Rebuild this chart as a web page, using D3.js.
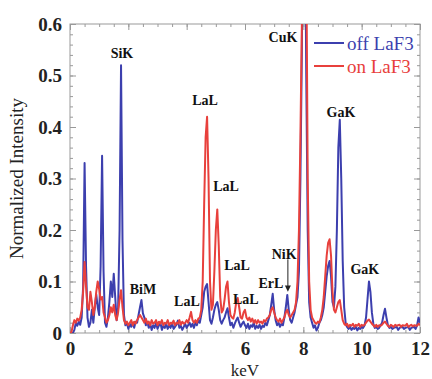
<!DOCTYPE html>
<html>
<head>
<meta charset="utf-8">
<script src="https://cdn.jsdelivr.net/npm/d3@7"></script>
<style>
  body { margin: 0; background: #fff; }
  svg { display: block; font-family: "Liberation Serif", "Times New Roman", serif; }
</style>
</head>
<body>
<svg id="chart" width="432" height="379"></svg>
<script>
// spectrum, [keV, normalized intensity]
var offLaF3 = [
  [0,0],[0.1,0],[0.15,0.006],[0.2,0.02],[0.25,0.014],[0.3,0.022],[0.35,0.016],[0.4,0.03],[0.45,0.09],[0.5,0.33],
  [0.55,0.13],[0.6,0.03],[0.65,0.012],[0.7,0.02],[0.75,0.045],[0.8,0.02],[0.85,0.05],[0.9,0.075],[0.95,0.05],[1.0,0.035],
  [1.05,0.13],[1.1,0.344],[1.15,0.12],[1.2,0.02],[1.25,0.012],[1.3,0.03],[1.35,0.06],[1.4,0.1],[1.45,0.07],[1.5,0.115],
  [1.55,0.07],[1.6,0.025],[1.65,0.05],[1.7,0.2],[1.75,0.52],[1.8,0.18],[1.85,0.035],[1.9,0.015],[1.95,0.02],[2.0,0.008],
  [2.05,0.018],[2.1,0.012],[2.15,0.02],[2.2,0.01],[2.25,0.022],[2.3,0.02],[2.35,0.035],[2.4,0.05],[2.45,0.064],[2.5,0.038],
  [2.55,0.03],[2.6,0.015],[2.65,0.022],[2.7,0.01],[2.75,0.018],[2.8,0.006],[2.85,0.015],[2.9,0.01],[2.95,0.02],[3.0,0.008],
  [3.05,0.015],[3.1,0.02],[3.15,0.006],[3.2,0.014],[3.25,0.01],[3.3,0.018],[3.35,0.008],[3.4,0.015],[3.45,0.01],[3.5,0.02],
  [3.55,0.008],[3.6,0.012],[3.65,0.016],[3.7,0.024],[3.75,0.01],[3.8,0.014],[3.85,0.006],[3.9,0.012],[3.95,0.018],[4.0,0.01],
  [4.05,0.015],[4.1,0.02],[4.15,0.012],[4.2,0.018],[4.25,0.01],[4.3,0.02],[4.35,0.015],[4.4,0.025],[4.45,0.02],[4.5,0.035],
  [4.55,0.05],[4.6,0.08],[4.65,0.09],[4.7,0.095],[4.75,0.06],[4.8,0.025],[4.85,0.018],[4.9,0.03],[4.95,0.045],[5.0,0.055],
  [5.05,0.06],[5.1,0.045],[5.15,0.025],[5.2,0.018],[5.25,0.025],[5.3,0.03],[5.35,0.04],[5.4,0.048],[5.45,0.03],[5.5,0.015],
  [5.55,0.02],[5.6,0.01],[5.65,0.018],[5.7,0.025],[5.75,0.03],[5.8,0.02],[5.85,0.012],[5.9,0.018],[5.95,0.022],[6.0,0.015],
  [6.05,0.01],[6.1,0.018],[6.15,0.008],[6.2,0.015],[6.25,0.012],[6.3,0.02],[6.35,0.008],[6.4,0.014],[6.45,0.01],[6.5,0.016],
  [6.55,0.008],[6.6,0.014],[6.65,0.012],[6.7,0.02],[6.75,0.015],[6.8,0.025],[6.85,0.035],[6.9,0.055],[6.95,0.076],[7.0,0.045],
  [7.05,0.025],[7.1,0.015],[7.15,0.02],[7.2,0.012],[7.25,0.018],[7.3,0.015],[7.35,0.03],[7.4,0.05],[7.45,0.074],[7.5,0.045],
  [7.55,0.025],[7.6,0.02],[7.65,0.03],[7.7,0.04],[7.75,0.055],[7.8,0.07],[7.85,0.12],[7.9,0.3],[7.95,0.55],[8.0,1.0],
  [8.05,0.9],[8.1,0.5],[8.15,0.2],[8.2,0.06],[8.25,0.03],[8.3,0.02],[8.35,0.01],[8.4,0.015],[8.45,0.005],[8.5,0.01],
  [8.55,0.02],[8.6,0.025],[8.65,0.035],[8.7,0.05],[8.75,0.08],[8.8,0.11],[8.85,0.13],[8.9,0.14],[8.95,0.11],[9.0,0.06],
  [9.05,0.05],[9.1,0.09],[9.15,0.2],[9.2,0.36],[9.25,0.414],[9.3,0.3],[9.35,0.14],[9.4,0.05],[9.45,0.02],[9.5,0.012],
  [9.55,0.008],[9.6,0.012],[9.65,0.006],[9.7,0.01],[9.75,0.008],[9.8,0.012],[9.85,0.005],[9.9,0.01],[9.95,0.008],[10.0,0.012],
  [10.05,0.01],[10.1,0.015],[10.15,0.03],[10.2,0.065],[10.25,0.1],[10.3,0.08],[10.35,0.04],[10.4,0.018],[10.45,0.01],[10.5,0.012],
  [10.55,0.008],[10.6,0.01],[10.65,0.015],[10.7,0.02],[10.75,0.035],[10.8,0.047],[10.85,0.03],[10.9,0.015],[10.95,0.01],[11.0,0.012],
  [11.05,0.008],[11.1,0.01],[11.2,0.012],[11.25,0.006],[11.3,0.01],[11.4,0.012],[11.45,0.008],[11.5,0.01],[11.6,0.012],[11.65,0.006],
  [11.7,0.01],[11.8,0.012],[11.85,0.008],[11.9,0.015],[11.95,0.03],[12.0,0.02]
];

var onLaF3 = [
  [0,0],[0.05,0.002],[0.1,0.015],[0.15,0.025],[0.2,0.02],[0.25,0.028],[0.3,0.024],[0.35,0.03],[0.4,0.045],[0.45,0.08],
  [0.5,0.138],[0.55,0.09],[0.6,0.05],[0.65,0.045],[0.7,0.08],[0.75,0.06],[0.8,0.035],[0.85,0.05],[0.9,0.08],[0.95,0.1],
  [1.0,0.085],[1.05,0.065],[1.1,0.07],[1.15,0.04],[1.2,0.03],[1.25,0.02],[1.3,0.025],[1.35,0.035],[1.4,0.05],[1.45,0.04],
  [1.5,0.055],[1.55,0.035],[1.6,0.025],[1.65,0.04],[1.7,0.065],[1.75,0.083],[1.8,0.05],[1.85,0.025],[1.9,0.018],[1.95,0.022],
  [2.0,0.015],[2.05,0.02],[2.1,0.025],[2.15,0.015],[2.2,0.022],[2.25,0.018],[2.3,0.025],[2.35,0.03],[2.4,0.035],[2.45,0.03],
  [2.5,0.025],[2.55,0.02],[2.6,0.028],[2.65,0.018],[2.7,0.022],[2.75,0.015],[2.8,0.025],[2.85,0.018],[2.9,0.02],[2.95,0.025],
  [3.0,0.015],[3.05,0.022],[3.1,0.018],[3.15,0.025],[3.2,0.015],[3.25,0.02],[3.3,0.018],[3.35,0.025],[3.4,0.015],[3.45,0.02],
  [3.5,0.018],[3.55,0.024],[3.6,0.015],[3.65,0.02],[3.7,0.018],[3.75,0.025],[3.8,0.016],[3.85,0.022],[3.9,0.018],[3.95,0.02],
  [4.0,0.025],[4.05,0.02],[4.1,0.03],[4.15,0.041],[4.2,0.025],[4.25,0.02],[4.3,0.025],[4.35,0.02],[4.4,0.028],[4.45,0.03],
  [4.5,0.045],[4.55,0.1],[4.6,0.25],[4.65,0.38],[4.7,0.42],[4.75,0.3],[4.8,0.1],[4.85,0.045],[4.9,0.055],[4.95,0.12],
  [5.0,0.2],[5.05,0.24],[5.1,0.17],[5.15,0.07],[5.2,0.04],[5.25,0.045],[5.3,0.065],[5.35,0.09],[5.4,0.1],[5.45,0.06],
  [5.5,0.035],[5.55,0.03],[5.6,0.028],[5.65,0.04],[5.7,0.06],[5.75,0.068],[5.8,0.05],[5.85,0.03],[5.9,0.028],[5.95,0.04],
  [6.0,0.045],[6.05,0.03],[6.1,0.025],[6.15,0.03],[6.2,0.022],[6.25,0.028],[6.3,0.02],[6.35,0.025],[6.4,0.018],[6.45,0.025],
  [6.5,0.02],[6.55,0.022],[6.6,0.018],[6.65,0.025],[6.7,0.022],[6.75,0.028],[6.8,0.03],[6.85,0.035],[6.9,0.045],[6.95,0.05],
  [7.0,0.04],[7.05,0.03],[7.1,0.025],[7.15,0.022],[7.2,0.028],[7.25,0.02],[7.3,0.025],[7.35,0.03],[7.4,0.04],[7.45,0.045],
  [7.5,0.035],[7.55,0.03],[7.6,0.035],[7.65,0.04],[7.7,0.045],[7.75,0.06],[7.8,0.1],[7.85,0.2],[7.9,0.38],[7.95,0.6],
  [8.0,1.0],[8.05,1.15],[8.1,0.75],[8.15,0.3],[8.2,0.1],[8.25,0.045],[8.3,0.03],[8.35,0.025],[8.4,0.02],[8.45,0.018],
  [8.5,0.022],[8.55,0.02],[8.6,0.03],[8.65,0.045],[8.7,0.07],[8.75,0.11],[8.8,0.15],[8.85,0.175],[8.9,0.182],[8.95,0.15],
  [9.0,0.08],[9.05,0.045],[9.1,0.04],[9.15,0.05],[9.2,0.06],[9.25,0.064],[9.3,0.045],[9.35,0.025],[9.4,0.018],[9.45,0.015],
  [9.5,0.018],[9.55,0.012],[9.6,0.016],[9.65,0.014],[9.7,0.018],[9.75,0.012],[9.8,0.016],[9.85,0.014],[9.9,0.018],[9.95,0.012],
  [10.0,0.016],[10.05,0.014],[10.1,0.016],[10.15,0.02],[10.2,0.024],[10.25,0.026],[10.3,0.022],[10.35,0.018],[10.4,0.015],[10.45,0.012],
  [10.5,0.016],[10.55,0.012],[10.6,0.015],[10.65,0.014],[10.7,0.016],[10.75,0.02],[10.8,0.022],[10.85,0.018],[10.9,0.014],[10.95,0.012],
  [11.0,0.016],[11.1,0.012],[11.15,0.016],[11.2,0.014],[11.3,0.016],[11.35,0.012],[11.4,0.015],[11.5,0.014],[11.55,0.018],[11.6,0.012],
  [11.7,0.016],[11.75,0.013],[11.8,0.015],[11.9,0.014],[11.95,0.018],[12.0,0.015]
];

var xTicks = [0, 2, 4, 6, 8, 10, 12];
var yTicks = [0, 0.1, 0.2, 0.3, 0.4, 0.5, 0.6];
var seriesNames = ['off LaF3', 'on LaF3'];

// peak labels: [text, keV, intensity]
var peakLabels = [
  ['SiK', 1.78, 0.544], ['LaL', 4.63, 0.452], ['CuK', 7.30, 0.575], ['GaK', 9.29, 0.429],
  ['LaL', 5.35, 0.285], ['LaL', 5.73, 0.132], ['LaL', 6.03, 0.066], ['LaL', 4.01, 0.062],
  ['BiM', 2.50, 0.085], ['ErL', 6.89, 0.097], ['NiK', 7.34, 0.153], ['GaK', 10.11, 0.124]
];

var w = 432, h = 379;
var margin = {left: 70, right: 12, top: 24, bottom: 46};
var blue = '#3c3fae', red = '#e8403c';

var svg = d3.select('#chart');

var x = d3.scaleLinear().domain([0, 12]).range([margin.left, w - margin.right]);
var y = d3.scaleLinear().domain([0, 0.6]).range([h - margin.bottom, margin.top]);

svg.append('defs').append('clipPath').attr('id', 'plotclip')
  .append('rect')
  .attr('x', x(0)).attr('y', y(0.6))
  .attr('width', x(12) - x(0)).attr('height', y(0) - y(0.6));

// minor + major ticks on all four sides, pointing in
function tickAxis(axis, transform) {
  var g = svg.append('g').attr('transform', transform).call(axis);
  g.select('.domain').remove();
  g.selectAll('line').attr('stroke', '#999');
  return g;
}
var minorX = d3.range(0, 12.01, 0.5), minorY = d3.range(0, 0.601, 0.02);
tickAxis(d3.axisBottom(x).tickValues(minorX).tickSize(-3).tickFormat(''), 'translate(0,' + y(0) + ')');
tickAxis(d3.axisTop(x).tickValues(minorX).tickSize(-3).tickFormat(''), 'translate(0,' + y(0.6) + ')');
tickAxis(d3.axisLeft(y).tickValues(minorY).tickSize(-3).tickFormat(''), 'translate(' + x(0) + ',0)');
tickAxis(d3.axisRight(y).tickValues(minorY).tickSize(-3).tickFormat(''), 'translate(' + x(12) + ',0)');
tickAxis(d3.axisTop(x).tickValues(xTicks).tickSize(-6).tickFormat(''), 'translate(0,' + y(0.6) + ')');
tickAxis(d3.axisRight(y).tickValues(yTicks).tickSize(-6).tickFormat(''), 'translate(' + x(12) + ',0)');

var xa = tickAxis(d3.axisBottom(x).tickValues(xTicks).tickSizeInner(-6).tickSizeOuter(0).tickPadding(9).tickFormat(d3.format('d')),
  'translate(0,' + y(0) + ')');
var ya = tickAxis(d3.axisLeft(y).tickValues(yTicks).tickSizeInner(-6).tickSizeOuter(0).tickPadding(8)
  .tickFormat(function(d) { return d === 0 ? '0' : d3.format('.1f')(d); }), 'translate(' + x(0) + ',0)');
svg.selectAll('.tick text')
  .attr('font-family', '"Liberation Serif", "Times New Roman", serif')
  .attr('font-size', 19).attr('font-weight', 'bold').attr('fill', '#222');

svg.append('rect')
  .attr('x', x(0)).attr('y', y(0.6))
  .attr('width', x(12) - x(0)).attr('height', y(0) - y(0.6))
  .attr('fill', 'none').attr('stroke', '#999').attr('stroke-width', 1);

var line = d3.line()
  .x(function(d) { return x(d[0]); })
  .y(function(d) { return y(d[1]); });

var plot = svg.append('g').attr('clip-path', 'url(#plotclip)');
plot.append('path').datum(offLaF3)
  .attr('fill', 'none').attr('stroke', blue).attr('stroke-width', 2).attr('stroke-linejoin', 'round')
  .attr('d', line);
plot.append('path').datum(onLaF3)
  .attr('fill', 'none').attr('stroke', red).attr('stroke-width', 2).attr('stroke-linejoin', 'round')
  .attr('d', line);

// peak labels
svg.append('g').selectAll('text').data(peakLabels).enter().append('text')
  .attr('x', function(d) { return x(d[1]); })
  .attr('y', function(d) { return y(d[2]); })
  .attr('dy', '0.35em')
  .attr('text-anchor', 'middle')
  .attr('font-size', 14).attr('font-weight', 'bold').attr('fill', '#111')
  .text(function(d) { return d[0]; });

// NiK arrow
svg.append('line')
  .attr('x1', x(7.47)).attr('x2', x(7.47))
  .attr('y1', y(0.143)).attr('y2', y(0.088))
  .attr('stroke', '#222').attr('stroke-width', 1);
svg.append('path')
  .attr('d', 'M' + (x(7.47) - 3) + ',' + y(0.092) + 'L' + (x(7.47) + 3) + ',' + y(0.092) + 'L' + x(7.47) + ',' + y(0.08) + 'Z')
  .attr('fill', '#222');

// legend
var legend = svg.append('g');
[blue, red].forEach(function(c, i) {
  var ly = 43 + i * 23;
  legend.append('line').attr('x1', 314).attr('x2', 344).attr('y1', ly).attr('y2', ly)
    .attr('stroke', c).attr('stroke-width', 2);
  legend.append('text').attr('x', 347).attr('y', ly).attr('dy', '0.35em')
    .attr('font-size', 19).attr('fill', c).text(seriesNames[i]);
});

// axis titles
svg.append('text')
  .attr('transform', 'translate(23,' + ((y(0) + y(0.6)) / 2) + ') rotate(-90)')
  .attr('text-anchor', 'middle')
  .attr('font-size', 19).attr('fill', '#222')
  .text('Normalized Intensity');
svg.append('text')
  .attr('x', (x(0) + x(12)) / 2).attr('y', 375.5)
  .attr('text-anchor', 'middle')
  .attr('font-size', 17).attr('fill', '#222')
  .text('keV');
</script>
</body>
</html>
